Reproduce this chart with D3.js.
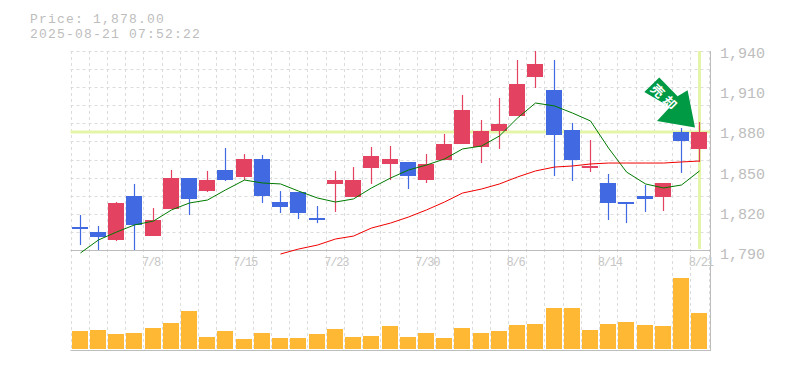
<!DOCTYPE html>
<html>
<head>
<meta charset="utf-8">
<script src="https://cdn.jsdelivr.net/npm/d3@7/dist/d3.min.js"></script>
<style>
html,body{margin:0;padding:0;background:#fff;}
svg{display:block;}
text{font-family:"Liberation Mono","Courier New",monospace;fill:#bdbdbd;}
</style>
</head>
<body>
<svg id="c" width="785" height="370"></svg>
<script>
const titleLines = ["Price: 1,878.00", "2025-08-21 07:52:22"];
const lastPrice = 1878;
const priceTicks = [1790, 1820, 1850, 1880, 1910, 1940];
const dateLabels = {4:"7/8", 9:"7/15", 14:"7/23", 19:"7/30", 24:"8/6", 29:"8/14", 34:"8/21"};
const arrowLabel = "売却";

const opens  = [1807.2,1803.4,1797.5,1830.3,1800.4,1820.6,1843.7,1834,1849.7,1844.5,1857.9,1825.8,1833.3,1813.9,1839.3,1829.6,1851.2,1854.2,1855.7,1842.2,1857.2,1869.1,1866.9,1878.8,1890,1919.1,1909.4,1879.6,1851.2,1840,1825.8,1830.3,1829.6,1878,1865.4];
const closes = [1805.7,1799.7,1825.1,1808.7,1812.4,1843.7,1828,1842.2,1842.2,1857.9,1830.3,1822.1,1817.6,1812.4,1842.2,1842.2,1860.1,1857.9,1845.2,1854.2,1869.1,1894.5,1878.8,1884,1913.9,1928.8,1875.8,1857.2,1852.7,1825.1,1824.3,1828,1840,1871.3,1878];
const highs  = [1816.1,1807.9,1825.8,1839.3,1821.3,1849.7,1843.7,1849,1866.1,1861.6,1860.9,1834,1833.3,1822.8,1849,1851.9,1866.9,1867.6,1855.7,1861.6,1876.6,1905.7,1887,1903.4,1931.8,1938.5,1931.8,1884.8,1872.1,1846.7,1825.8,1838.5,1840,1881,1885.5];
const lows   = [1793.7,1790,1796.7,1790,1800.4,1820.6,1816.1,1833.3,1841.5,1842.2,1825.1,1817.6,1813.1,1810.1,1818.4,1829.6,1839.3,1842.2,1835.5,1840,1857.2,1869.1,1854.9,1865.4,1890,1910.9,1845.2,1841.5,1848.2,1812.4,1810.1,1818.4,1819.1,1847.5,1855.7];
const volumes = [18,19,15,16,21,26,38,12,18,10,16,11,11,15,20,12,13,23,12,16,11,21,16,18,24,25,41,41,19,25,27,24,23,71,36];
const maShort = [1787.8,1797.5,1803.4,1808.7,1811.6,1819.9,1825.1,1827.3,1834.8,1842.2,1840,1839.3,1834,1828.8,1825.8,1828.1,1836.3,1843.7,1849.7,1853.4,1857.9,1865.4,1867.6,1875.1,1888.5,1899.7,1897.5,1892.2,1886.3,1866.1,1848.2,1839.3,1836.3,1838.5,1849];
const maLongStart = 11;
const maLong = [1787,1790.7,1793.7,1798.2,1800.4,1806.4,1810.1,1814.6,1819.9,1825.8,1832.5,1835.5,1839.3,1844.5,1849,1851.9,1852.7,1854.2,1854.9,1854.9,1854.9,1854.9,1855.7,1856.4];

const svg = d3.select("#c");
const idx = d3.range(opens.length);
const plotLeft = 70.5, plotRight = 708.5, frameRight = 710, plotTop = 51, priceBottom = 250, volBottom = 350.5;
const x = d3.scaleBand().domain(idx).range([plotLeft, plotRight]).paddingInner(0.125).paddingOuter(0.0625);
const step = x.step();
const y = d3.scaleLinear().domain([1790, 1940]).range([priceBottom, 49]);
const v = d3.scaleLinear().domain([0, 100]).range([348.5, 248.5]);
const cx = i => Math.round(x(i) + x.bandwidth() / 2) + 0.5;

// grid
const gridY = d3.scaleLinear().domain([0, 11]).range([plotTop, priceBottom]);
const grid = svg.append("g").attr("stroke", "#dcdcdc").attr("stroke-dasharray", "3,3").attr("fill", "none");
grid.selectAll("line.h").data(d3.range(0, 11)).join("line").attr("class", "h")
  .attr("x1", plotLeft).attr("x2", frameRight)
  .attr("y1", d => Math.round(gridY(d)) + 0.5).attr("y2", d => Math.round(gridY(d)) + 0.5);
grid.selectAll("line.v").data(d3.range(0, 36)).join("line").attr("class", "v")
  .attr("y1", plotTop).attr("y2", volBottom)
  .attr("x1", d => Math.round(plotLeft + d * step) + 0.5).attr("x2", d => Math.round(plotLeft + d * step) + 0.5);

// frame
const frame = svg.append("g").attr("stroke", "#bdbdbd").attr("stroke-width", 1);
frame.append("line").attr("x1", plotLeft).attr("x2", frameRight).attr("y1", priceBottom + .5).attr("y2", priceBottom + .5);
frame.append("line").attr("x1", plotLeft).attr("x2", frameRight).attr("y1", volBottom).attr("y2", volBottom);
frame.append("line").attr("x1", frameRight + .5).attr("x2", frameRight + .5).attr("y1", plotTop).attr("y2", volBottom + .5);

// last-price cross
const hl = svg.append("g").attr("stroke", "#e4f5a8").attr("stroke-width", 3);
hl.append("line").attr("x1", plotLeft).attr("x2", frameRight).attr("y1", y(lastPrice)).attr("y2", y(lastPrice));
hl.append("line").attr("x1", cx(34)).attr("x2", cx(34)).attr("y1", plotTop).attr("y2", priceBottom - 1);

// volume
svg.append("g").selectAll("rect").data(volumes).join("rect")
  .attr("x", (d, i) => Math.round(x(i))).attr("width", 16)
  .attr("y", d => v(d)).attr("height", d => v(0) - v(d))
  .attr("fill", "#ffb833").attr("shape-rendering", "crispEdges");

// moving averages
const lineS = d3.line().x((d, i) => cx(i)).y(d => y(d));
const lineL = d3.line().x((d, i) => cx(i + maLongStart)).y(d => y(d));

// candles
const colorOf = i => closes[i] >= opens[i] ? "#e34260" : "#4169e1";
const cg = svg.append("g");
cg.selectAll("line").data(idx).join("line")
  .attr("x1", cx).attr("x2", cx)
  .attr("y1", i => y(highs[i])).attr("y2", i => y(lows[i]))
  .attr("stroke", colorOf).attr("stroke-width", 1.2);
cg.selectAll("rect").data(idx).join("rect")
  .attr("x", i => Math.round(x(i))).attr("width", 16)
  .attr("y", i => Math.round(y(Math.max(opens[i], closes[i]))))
  .attr("height", i => Math.max(2, Math.round(Math.abs(y(opens[i]) - y(closes[i])))))
  .attr("fill", colorOf).attr("shape-rendering", "crispEdges");

svg.append("path").datum(maShort).attr("d", lineS).attr("fill", "none").attr("stroke", "#007a00").attr("stroke-width", 1);
svg.append("path").datum(maLong).attr("d", lineL).attr("fill", "none").attr("stroke", "#f00000").attr("stroke-width", 1);

// price axis
const ay = svg.append("g").attr("transform", `translate(${720},3.6)`)
  .call(d3.axisRight(y).tickValues(priceTicks).tickSize(0).tickPadding(0).tickFormat(d3.format(",")));
ay.select(".domain").remove();
ay.selectAll("text").attr("font-size", 15).attr("font-family", null).attr("fill", "#bdbdbd");

// date axis
const ax = svg.append("g").attr("transform", `translate(0,257)`)
  .call(d3.axisBottom(x).tickValues(Object.keys(dateLabels).map(Number)).tickSize(0).tickPadding(0).tickFormat(d => dateLabels[d]));
ax.select(".domain").remove();
ax.selectAll("text").attr("font-size", 12).attr("letter-spacing", -1.2).attr("font-family", null)
  .style("fill", "#c6c6c6")
  .attr("text-anchor", "start").attr("x", -step / 2 - 1.5).attr("dy", "0.72em");

// title: two lines, letter-spaced to keep the reference's 9px character pitch
svg.append("g").selectAll("text").data(titleLines).join("text")
  .attr("x", 30).attr("y", (d, i) => 22.5 + i * 15).attr("font-size", 13).attr("letter-spacing", 1.2).text(d => d);

// sell arrow, tip anchored on the last candle
const tipX = cx(34) - 4.5, tipY = y(lastPrice) - 4.5;
const arrowShape = [[-50.7,-35.6],[-35.7,-50],[-17.4,-31.3],[-7.4,-37.3],[0,0],[-38,-6.6],[-25,-20.6]];
const ag = svg.append("g").attr("transform", `translate(${tipX},${tipY})`);
ag.append("path").attr("d", d3.line()(arrowShape) + "Z").attr("fill", "#009944");
ag.append("text").attr("transform", "translate(-30,-29) rotate(45)")
  .attr("text-anchor", "middle").attr("dy", "0.35em").attr("font-size", 13).attr("font-weight", 700)
  .attr("letter-spacing", 4)
  .style("font-family", '"Noto Sans CJK JP"').style("fill", "#fff").text(arrowLabel);
</script>
</body>
</html>
